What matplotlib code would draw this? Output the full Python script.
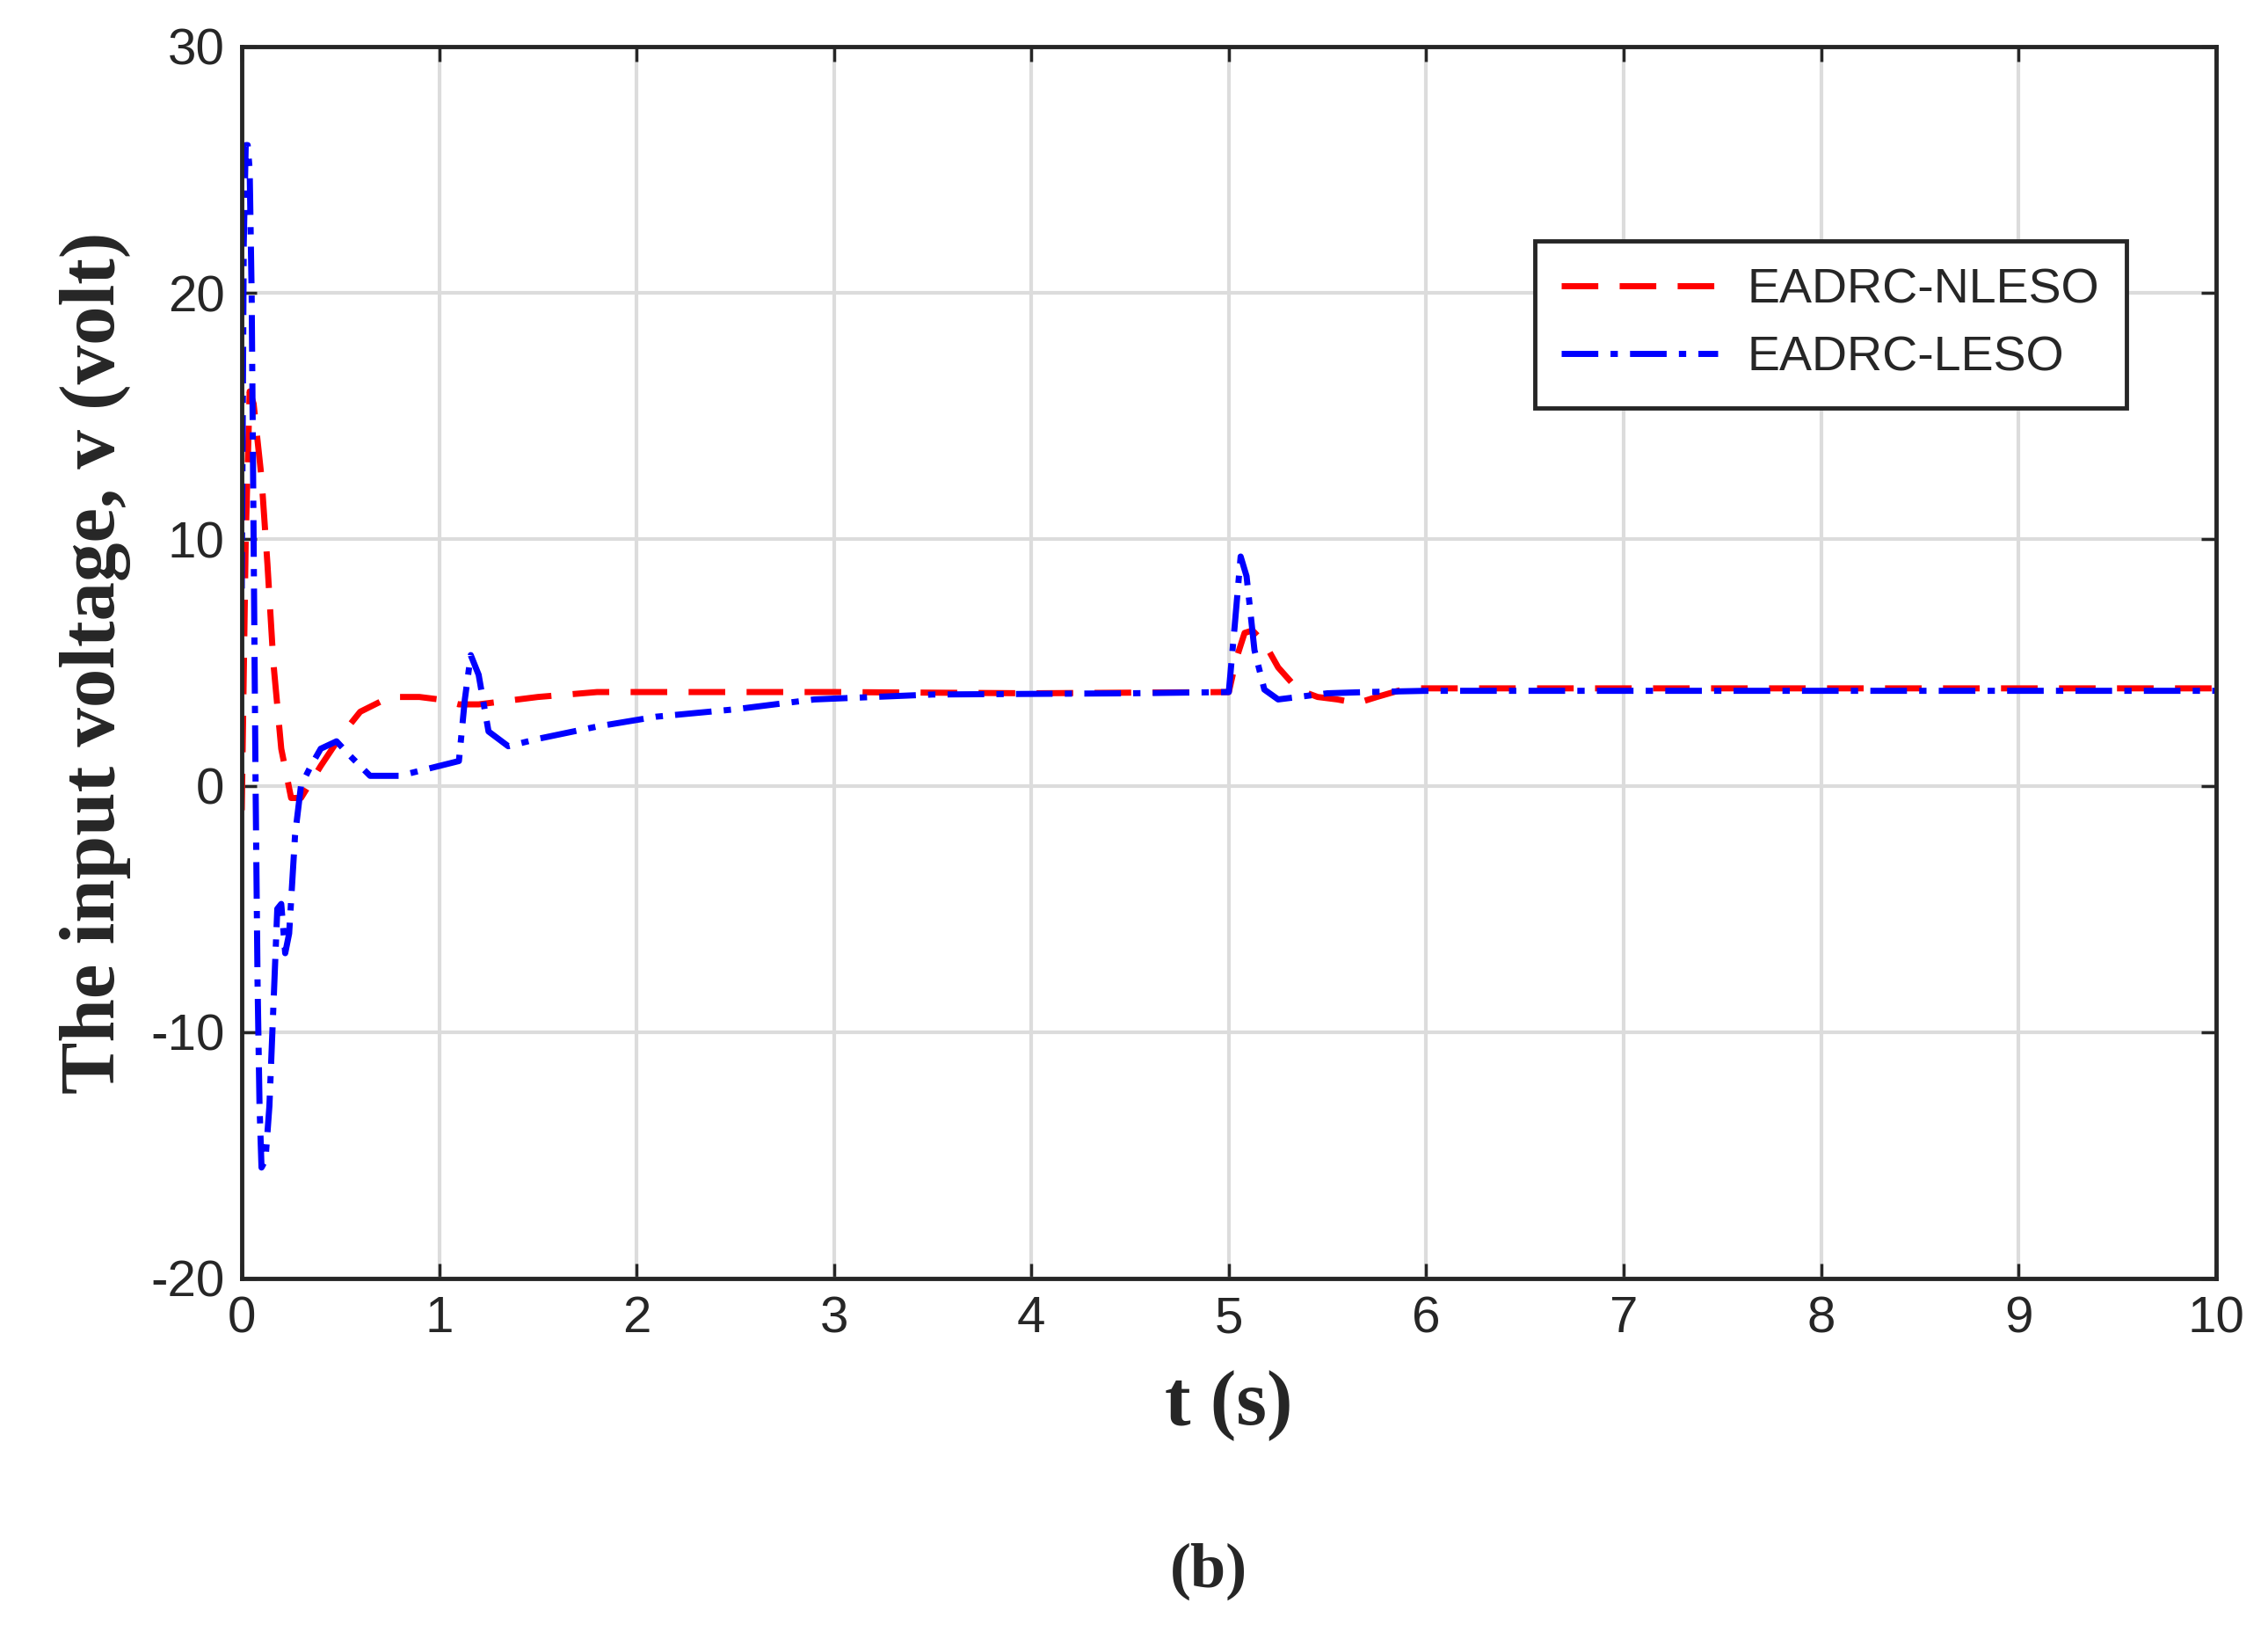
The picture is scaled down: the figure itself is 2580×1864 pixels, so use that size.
import matplotlib
matplotlib.use("Agg")
import matplotlib.pyplot as plt
plt.rcParams['axes.unicode_minus'] = False

t_nleso = [0, 0.02, 0.04, 0.06, 0.08, 0.1, 0.13, 0.16, 0.2, 0.25, 0.3, 0.4, 0.5, 0.6, 0.75, 0.9, 1.0, 1.1, 1.2, 1.3, 1.5, 1.8, 2.5, 3.0, 4.0, 5.0, 5.04, 5.08, 5.12, 5.18, 5.25, 5.35, 5.45, 5.55, 5.65, 5.75, 5.9, 6.5, 8, 10]
v_nleso = [-1, 10, 16, 15.5, 14, 12.5, 9, 5, 1.5, -0.5, -0.5, 0.8, 2.0, 3.0, 3.6, 3.6, 3.5, 3.3, 3.3, 3.4, 3.6, 3.8, 3.8, 3.8, 3.75, 3.8, 5.2, 6.2, 6.3, 5.8, 4.8, 3.9, 3.6, 3.5, 3.35, 3.6, 3.95, 3.95, 3.95, 3.95]

t_leso = [0, 0.01, 0.02, 0.03, 0.04, 0.05, 0.06, 0.07, 0.08, 0.09, 0.1, 0.12, 0.14, 0.16, 0.18, 0.2, 0.22, 0.24, 0.27, 0.3, 0.35, 0.4, 0.48, 0.55, 0.65, 0.8, 0.95, 1.1, 1.13, 1.16, 1.2, 1.25, 1.35, 1.5, 1.8, 2.1, 2.5, 2.9, 3.5, 4.5, 5.0, 5.03, 5.06, 5.09, 5.13, 5.18, 5.25, 5.35, 5.5, 5.7, 6.0, 7, 8, 10]
v_leso = [8, 22, 26, 26, 25, 20, 10, 0, -8, -13, -15.5, -15.2, -13, -9, -5, -4.8, -6.8, -6, -2, 0, 0.8, 1.5, 1.8, 1.2, 0.4, 0.4, 0.7, 1.0, 3.5, 5.3, 4.5, 2.2, 1.6, 1.9, 2.4, 2.8, 3.1, 3.5, 3.7, 3.75, 3.8, 6.5, 9.3, 8.5, 5.5, 3.9, 3.5, 3.6, 3.75, 3.8, 3.85, 3.85, 3.85, 3.85]

xticks = list(range(0, 11))
yticks = [-20, -10, 0, 10, 20, 30]

fig = plt.figure(figsize=(25.8, 18.64), dpi=100)
ax = fig.add_axes([0.1066, 0.22, 0.8704, 0.7516])
ax.plot(t_nleso, v_nleso, color='#ff0000', lw=5, ls=(0, (6, 3.5)), label='EADRC-NLESO')
ax.plot(t_leso, v_leso, color='#0000ff', lw=5, ls=(0, (6, 2, 1.2, 2)), label='EADRC-LESO')
ax.set_xlim(0, 10)
ax.set_ylim(-20, 30)
ax.set_xticks(xticks)
ax.set_yticks(yticks)
ax.grid(True, color='#dcdcdc', lw=3)
for lab in ax.get_xticklabels() + ax.get_yticklabels():
    lab.set_family('Liberation Sans')
    lab.set_fontsize(42)
    lab.set_color('#262626')
ax.tick_params(direction='in', length=12, width=2.5, colors='#262626', pad=14, top=True, right=True, labeltop=False, labelright=False)
for s in ax.spines.values():
    s.set_linewidth(3.5)
    s.set_color('#262626')
ax.set_xlabel('t (s)', family='Liberation Serif', fontweight='bold', fontsize=64, labelpad=22, color='#262626')
ax.set_ylabel('The input voltage, v (volt)', family='Liberation Serif', fontweight='bold', fontsize=64, labelpad=16, color='#262626')
leg = ax.legend(loc='upper right', bbox_to_anchor=(0.967, 0.862), prop={'family': 'Liberation Sans', 'size': 40},
                fancybox=False, edgecolor='#262626', framealpha=1, handlelength=3.2, borderpad=0.55, labelspacing=0.45,
                handletextpad=0.6)
leg.get_frame().set_linewidth(3.5)
for txt in leg.get_texts():
    txt.set_color('#262626')
fig.text(0.533, 0.032, '(b)', family='Liberation Serif', fontweight='bold', fontsize=52, ha='center', color='#262626')
fig.savefig('out.png', dpi=100)
